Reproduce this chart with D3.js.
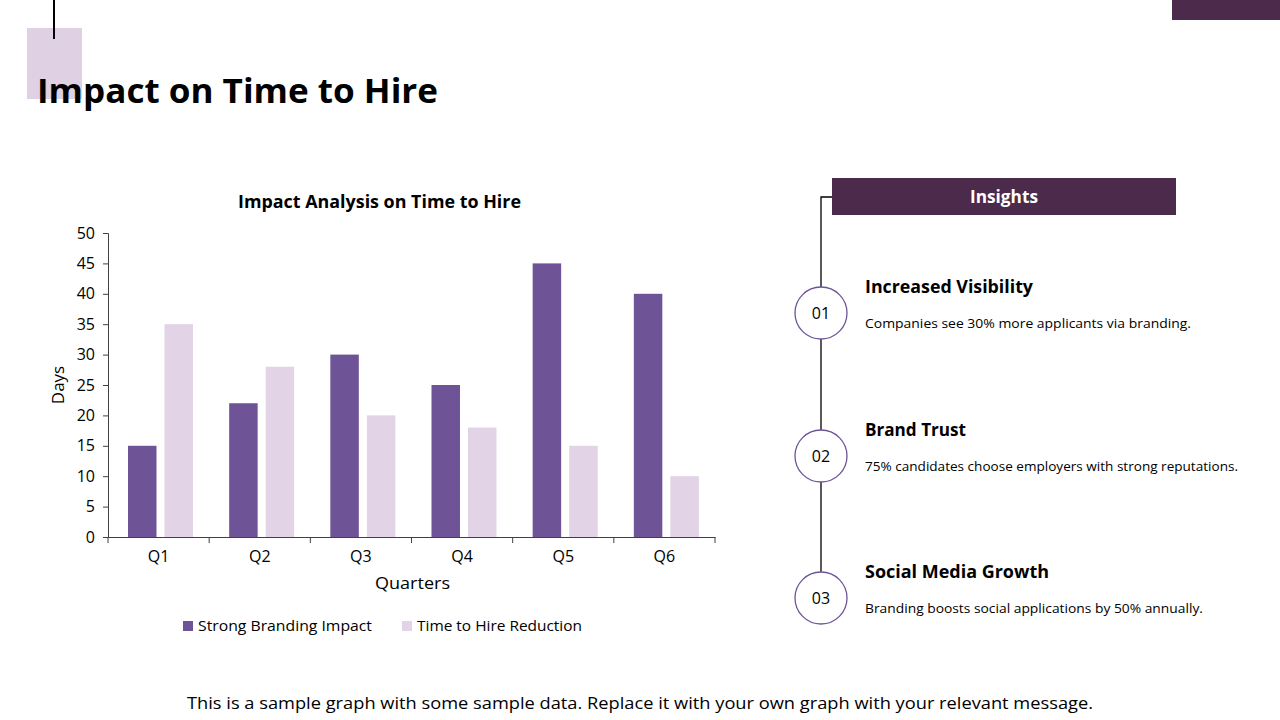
<!DOCTYPE html>
<html><head><meta charset="utf-8">
<script src="https://cdn.jsdelivr.net/npm/d3@7"></script>
<style>
html,body{margin:0;padding:0;background:#fff;}
svg{display:block;font-family:"Open Sans", Lato, sans-serif;}
svg text{font-family:"Open Sans", Lato, sans-serif;}
</style></head>
<body>
<svg id="c" width="1280" height="720"></svg>
<script>
const categories = ["Q1","Q2","Q3","Q4","Q5","Q6"];
const seriesNames = ["Strong Branding Impact","Time to Hire Reduction"];
const strongBranding = [15,22,30,25,45,40];
const hireReduction = [35,28,20,18,15,10];
const yTicks = [0,5,10,15,20,25,30,35,40,45,50];
const insightNums = ["01","02","03"];
const insightTitles = ["Increased Visibility","Brand Trust","Social Media Growth"];
const insightTexts = ["Companies see 30% more applicants via branding.","75% candidates choose employers with strong reputations.","Branding boosts social applications by 50% annually."];

const dark = "#6e5497", light = "#e2d3e6", plum = "#4b2a4b";
const svg = d3.select("#c");
function fit(sel, w){ sel.attr("textLength", w).attr("lengthAdjust","spacingAndGlyphs"); return sel; }

// decorations
svg.append("rect").attr("x",1172).attr("y",0).attr("width",108).attr("height",20).attr("fill",plum);
svg.append("rect").attr("x",27).attr("y",28).attr("width",55).attr("height",71).attr("fill","#e0d0e3");
svg.append("line").attr("x1",54).attr("x2",54).attr("y1",0).attr("y2",39).attr("stroke","#000").attr("stroke-width",2);
fit(svg.append("text").attr("x",37).attr("y",103).attr("font-size",34).attr("font-weight",700).attr("fill","#000").text("Impact on Time to Hire"),401);

// chart
const x0 = d3.scaleBand().domain(categories).range([108,715]).paddingInner(0).paddingOuter(0);
const x1 = d3.scaleBand().domain(seriesNames).range([20,85]).paddingInner(0.22);
const y = d3.scaleLinear().domain([0,50]).range([537,233]);

const g = svg.append("g");
const yAxis = g.append("g").attr("transform","translate(108,0)")
  .call(d3.axisLeft(y).tickValues(yTicks).tickSize(5).tickPadding(8));
yAxis.attr("font-family",null);
yAxis.selectAll("text").attr("font-size",16).attr("fill","#000");
yAxis.selectAll("line,path").attr("stroke","#404040");

const data = categories.map((c,i)=>({c, vals:[strongBranding[i],hireReduction[i]]}));
const grp = g.selectAll(".grp").data(data).join("g").attr("transform",d=>`translate(${x0(d.c)},0)`);
grp.selectAll("rect").data(d=>d.vals.map((v,j)=>({v,s:seriesNames[j],j})))
  .join("rect")
  .attr("x",d=>x1(d.s)).attr("width",x1.bandwidth())
  .attr("y",d=>y(d.v)).attr("height",d=>y(0)-y(d.v))
  .attr("fill",d=>d.j===0?dark:light);

const xAxis = g.append("g").attr("transform","translate(0,537)")
  .call(d3.axisBottom(x0).tickSize(0).tickPadding(14));
xAxis.attr("font-family",null);
xAxis.selectAll("text").attr("font-size",16).attr("fill","#000");
xAxis.select("path").attr("stroke","#404040");
xAxis.selectAll(".bt").data(d3.range(categories.length+1)).join("line")
  .attr("x1",i=>108+i*x0.step()).attr("x2",i=>108+i*x0.step())
  .attr("y1",0).attr("y2",6).attr("stroke","#404040");

fit(svg.append("text").attr("x",238).attr("y",208).attr("font-size",17).attr("font-weight",700).text("Impact Analysis on Time to Hire"),283);
svg.append("text").attr("transform","translate(64,385) rotate(-90)").attr("text-anchor","middle").attr("font-size",17).text("Days");
fit(svg.append("text").attr("x",375).attr("y",589).attr("font-size",17).text("Quarters"),75);

// legend
const legX = [183,402];
const legW = [174,165];
seriesNames.forEach((s,i)=>{
  svg.append("rect").attr("x",legX[i]).attr("y",621).attr("width",10).attr("height",10).attr("fill",i===0?dark:light);
  fit(svg.append("text").attr("x",legX[i]+15).attr("y",631).attr("font-size",15).text(s),legW[i]);
});

// insights panel
svg.append("rect").attr("x",832).attr("y",178).attr("width",344).attr("height",37).attr("fill",plum);
fit(svg.append("text").attr("x",970).attr("y",203).attr("font-size",17).attr("font-weight",700).attr("fill","#fff").text("Insights"),68);
const cy = [313,456,598];
const titleW = [168,101,184];
const textW = [326,373,338];
svg.append("path").attr("d",`M832,197 H821 V${cy[2]-26}`).attr("fill","none").attr("stroke","#000").attr("stroke-width",1.3);
insightNums.forEach((n,i)=>{
  svg.append("circle").attr("cx",821).attr("cy",cy[i]).attr("r",26).attr("fill","#fff").attr("stroke",dark).attr("stroke-width",1.3);
  svg.append("text").attr("x",821).attr("y",cy[i]+6).attr("text-anchor","middle").attr("font-size",16).text(n);
  fit(svg.append("text").attr("x",865).attr("y",cy[i]-20).attr("font-size",18).attr("font-weight",700).text(insightTitles[i]),titleW[i]);
  fit(svg.append("text").attr("x",865).attr("y",cy[i]+15).attr("font-size",13).text(insightTexts[i]),textW[i]);
});

fit(svg.append("text").attr("x",187).attr("y",709).attr("font-size",17).text("This is a sample graph with some sample data. Replace it with your own graph with your relevant message."),906);
</script>
</body></html>
